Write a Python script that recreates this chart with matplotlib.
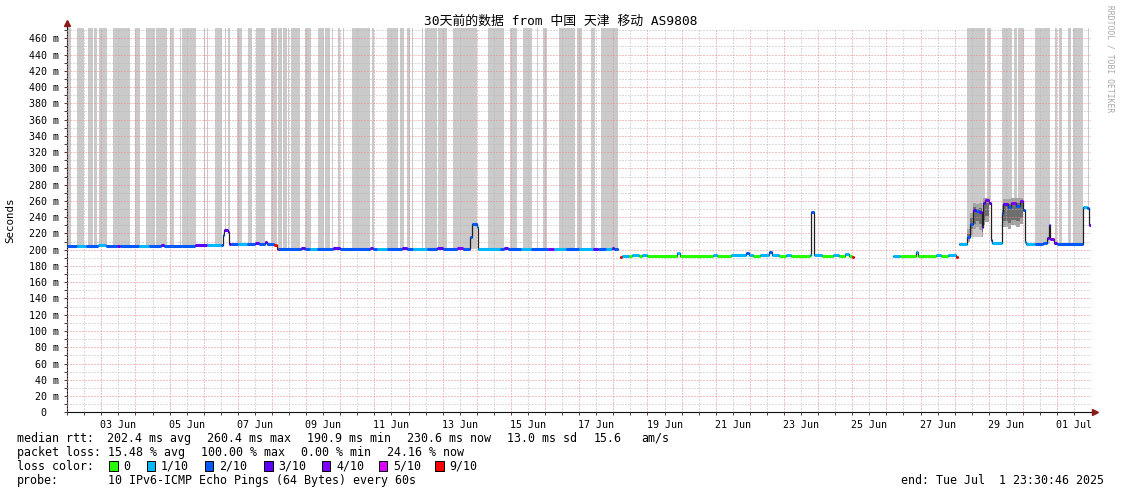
import numpy as np
import matplotlib
matplotlib.use("Agg")
import matplotlib.pyplot as plt
from matplotlib.patches import Rectangle

nan = np.nan

# time axis in "June day" units: 1.0 = 01 Jun 00:00, 31.0 = 01 Jul 00:00
t_start, t_end = 1.98, 31.98  # 30 days ending Tue Jul 1 23:30:46 2025

title = "30天前的数据 from 中国 天津 移动 AS9808"

# median rtt (ms) as a step series: value holds until next time, loss in tenths
med_t = [1.98, 2.30, 2.55, 2.90, 3.15, 3.45, 3.55, 4.10, 4.40, 4.75, 4.85, 5.35,
         5.74, 6.10, 6.52, 6.56, 6.60, 6.70, 6.74, 6.80, 7.00, 7.27, 7.50, 7.62,
         7.80, 7.86, 8.07, 8.14, 8.18,
         8.85, 8.97, 9.11, 9.32, 9.80, 10.00, 10.87, 10.96, 11.08, 11.37, 11.80,
         11.95, 12.13, 12.54, 12.83, 13.00, 13.42, 13.60, 13.80, 13.87, 14.00,
         14.05, 14.68, 14.80, 14.90, 15.30, 15.60, 16.10, 16.25, 16.60, 17.00,
         17.40, 17.55, 17.80, 17.95, 18.03, 18.13,
         18.20, 18.25, 18.45, 18.55, 18.75, 18.85, 19.00, 19.88, 19.95, 20.93,
         21.05, 21.45, 21.90, 21.98, 22.10, 22.30, 22.55, 22.65, 22.85, 23.05,
         23.20, 23.75, 23.80, 23.88, 24.10, 24.45, 24.60, 24.80, 24.90, 24.99,
         25.05,
         26.19, 26.40, 26.86, 26.92, 27.45, 27.60, 27.80, 28.05, 28.11,
         28.14, 28.36, 28.45, 28.54, 28.62, 28.70, 28.79, 28.83, 28.90, 29.00,
         29.06, 29.10, 29.38, 29.42, 29.55, 29.65, 29.80, 29.92, 30.00, 30.06,
         30.10, 30.35, 30.60, 30.70, 30.76, 30.79, 30.90, 30.99, 31.77, 31.88,
         31.94, 31.98]
med_v = [205, 205, 205, 205.5, 205, 205, 205, 205, 205, 206, 205, 205,
         205.5, 206, 206, 218, 224, 222, 207.5, 207.5, 207, 207, 208, 207,
         210, 207, 206, 200.5, 200.5,
         201.5, 200.5, 200.5, 200.5, 201.5, 200.5, 201.5, 200.5, 200.5, 200.5, 201.5,
         200.5, 200.5, 200.5, 202, 200.5, 202, 200.5, 215, 232, 228,
         200.5, 200.5, 202, 200.5, 200.5, 200.5, 201, 200.5, 200.5, 200.5,
         201, 200.5, 200.5, 201.5, 201, nan,
         191.5, 192.5, 192, 193, 192, 193, 192, 196, 192, 193.5,
         192, 193, 196, 193, 192, 193, 197, 193, 192, 193,
         192, 193, 246, 193, 192, 194, 192, 195, 192.5, 191,
         nan,
         192.5, 192, 197, 192, 193, 192, 193, 191.5, nan,
         207.5, 215, 232, 249, 248, 246, 228, 258, 261, 257,
         212, 208.5, 245, 256, 252, 258, 254, 260, 249, 209.5,
         207.5, 207.5, 208, 214, 230, 213, 208, 207.5, 252.5, 251,
         230.5, nan]
med_loss = [2, 1, 2, 1, 2, 3, 2, 1, 2, 3, 2, 2,
            3, 1, 2, 2, 3, 3, 3, 2, 1, 2, 3, 2,
            3, 2, 9, 9, 2,
            3, 2, 1, 2, 3, 2, 4, 2, 1, 2, 3,
            2, 1, 2, 3, 2, 4, 2, 2, 2, 1,
            1, 2, 3, 2, 1, 2, 4, 1, 2, 1,
            3, 2, 1, 3, 2, 0,
            9, 1, 0, 1, 0, 1, 0, 1, 0, 1,
            0, 1, 2, 1, 0, 1, 2, 1, 0, 1,
            0, 1, 2, 1, 0, 1, 0, 1, 0, 9,
            0,
            1, 0, 1, 0, 1, 0, 1, 9, 0,
            1, 2, 2, 3, 2, 3, 4, 3, 4, 3,
            2, 1, 2, 3, 2, 4, 2, 4, 2, 1,
            1, 2, 2, 3, 3, 4, 3, 2, 1, 2,
            3, 0]

# smoke (spread of the pings) where it is wide
smoke_t = [28.36, 28.45, 28.54, 28.62, 28.70, 28.79, 28.83, 28.90, 29.00, 29.06,
           29.38, 29.42, 29.55, 29.65, 29.80, 29.92, 30.00, 30.06]
smoke_lo = [210, 218, 225, 228, 224, 215, 230, 234, 232, nan,
            222, 228, 226, 230, 228, 232, 225, nan]
smoke_hi = [225, 245, 258, 256, 257, 245, 263, 264, 263, nan,
            255, 262, 262, 264, 263, 264, 262, nan]

# intervals with packet loss (grey bars from median to top)
bar_start = [2.02, 2.29, 2.60, 2.80, 2.93, 3.34, 3.99, 4.31, 4.60, 5.01,
             5.31, 5.36, 6.01, 6.09, 6.33, 6.62, 6.72, 6.97, 7.26, 7.30,
             7.53, 7.96, 8.19, 8.33, 8.47, 8.55, 8.97, 9.04, 9.36, 9.55,
             9.77, 9.94, 10.07, 10.35, 10.92, 11.36, 11.75, 11.95, 12.09, 12.39,
             12.48, 12.87, 13.31, 14.34, 14.98, 15.36, 15.76, 15.95, 16.42, 16.93,
             17.35, 17.64, 28.36, 28.84, 28.96, 29.38, 29.74, 29.87, 30.36, 30.94,
             31.07, 31.33, 31.46, 31.92]
bar_end = [2.10, 2.50, 2.77, 2.87, 3.16, 3.84, 4.13, 4.57, 4.92, 5.12,
           5.34, 5.77, 6.04, 6.12, 6.53, 6.65, 6.77, 7.11, 7.28, 7.41,
           7.80, 8.14, 8.29, 8.45, 8.51, 8.82, 9.02, 9.14, 9.53, 9.70,
           9.80, 9.99, 10.10, 10.87, 10.99, 11.70, 11.87, 12.04, 12.14, 12.43,
           12.83, 13.12, 14.00, 14.80, 15.17, 15.61, 15.80, 16.05, 16.88, 17.08,
           17.47, 18.13, 28.83, 28.89, 29.06, 29.69, 29.82, 30.03, 30.80, 31.01,
           31.14, 31.40, 31.75, 31.95]

loss_levels = [0, 1, 2, 3, 4, 5, 9]
loss_colors = ['#26ff00', '#00b8ff', '#0059ff', '#5e00ff', '#7e00ff', '#dd00ff', '#ff0000']

xtick_pos = [3.5, 5.5, 7.5, 9.5, 11.5, 13.5, 15.5, 17.5, 19.5, 21.5, 23.5,
             25.5, 27.5, 29.5, 31.5]
xtick_text = ['03 Jun', '05 Jun', '07 Jun', '09 Jun', '11 Jun', '13 Jun', '15 Jun',
              '17 Jun', '19 Jun', '21 Jun', '23 Jun', '25 Jun', '27 Jun', '29 Jun',
              '01 Jul']

legend_rows = [
    ("median rtt:", ["202.4 ms avg", "260.4 ms max", "190.9 ms min",
                     "230.6 ms now", "13.0 ms sd", "15.6", "am/s"]),
    ("packet loss:", ["15.48 % avg", "100.00 % max", "0.00 % min", "24.16 % now"]),
]
probe_text = "10 IPv6-ICMP Echo Pings (64 Bytes) every 60s"
end_text = "end: Tue Jul  1 23:30:46 2025"

plt.rcParams['font.family'] = ['DejaVu Sans Mono', 'Noto Sans CJK SC']
plt.rcParams['lines.scale_dashes'] = False

W, H = 1121, 494
fig = plt.figure(figsize=(W / 100, H / 100), dpi=100)
ax = fig.add_axes([66.5 / W, 81.7 / H, 1024 / W, 384 / H])
ymax = 472.3
ax.set_xlim(t_start, t_end)
ax.set_ylim(0, ymax)

mt = np.array(med_t)
mv = np.array(med_v, dtype=float)

# grey loss bars
bs = np.array(bar_start)
be = np.array(bar_end)
base = mv[np.searchsorted(mt, bs, side='right') - 1]
ax.bar(bs, ymax - base, width=be - bs, bottom=base, align='edge',
       color='#cacaca', linewidth=0, zorder=1)

# smoke
st = np.array(smoke_t)
slo = np.array(smoke_lo, dtype=float)
shi = np.array(smoke_hi, dtype=float)
ax.fill_between(st, slo, shi, step='post', color='#a4a4a4', lw=0, zorder=2)
ax.fill_between(st, slo + 7, shi - 6, step='post', color='#6e6e6e', lw=0, zorder=2)

# median line: dark base line plus loss-coloured segments
ax.step(mt, mv, where='post', color='#202020', lw=0.9, zorder=3)
cmap = dict(zip(loss_levels, loss_colors))
for i in range(len(mt) - 1):
    if np.isnan(mv[i]):
        continue
    ax.hlines(mv[i], mt[i], mt[i + 1], color=cmap[med_loss[i]], lw=2.2, zorder=4)

# grid and ticks
ax.set_xticks(np.arange(2, 32))
ax.set_xticklabels([])
ax.set_xticks(np.arange(2.5, 32, 1), minor=True)
minor_labels = [''] * len(np.arange(2.5, 32, 1))
for p, s in zip(xtick_pos, xtick_text):
    minor_labels[int(p - 2.5)] = s
ax.set_xticklabels(minor_labels, minor=True)

ax.set_yticks(np.arange(0, 461, 20))
ax.set_yticklabels([f"{v} m" if v else "0  " for v in range(0, 461, 20)])
ax.set_yticks(np.arange(10, 471, 20), minor=True)

dot = (0, (0.72, 1.44))
ax.grid(which='major', color='#e88888', linestyle=dot, linewidth=0.72)
ax.grid(which='minor', color='#b8b8b8', linestyle=dot, linewidth=0.72)
ax.set_axisbelow(False)

ax.tick_params(which='both', direction='out', length=2.2, width=0.7,
               color='#404040', labelsize=7.2)
ax.tick_params(axis='y', pad=2.9)
ax.tick_params(axis='x', pad=0.6)

for s in ['top', 'right']:
    ax.spines[s].set_visible(False)
for s in ['left', 'bottom']:
    ax.spines[s].set_color('#101010')
    ax.spines[s].set_linewidth(0.8)

# axis arrows
ax.plot([0, 0], [1, 1 + 5 / 384], transform=ax.transAxes, color='#101010',
        lw=0.8, clip_on=False, zorder=5)
ax.plot([0], [1 + 5 / 384], marker='^', ms=4.5, color='#8b1a1a',
        transform=ax.transAxes, clip_on=False, zorder=5)
ax.plot([1, 1 + 4 / 1024], [0, 0], transform=ax.transAxes, color='#101010',
        lw=0.8, clip_on=False, zorder=5)
ax.plot([1 + 4 / 1024], [0], marker='>', ms=4.5, color='#8b1a1a',
        transform=ax.transAxes, clip_on=False, zorder=5)

# texts around the graph
fig.text(0.5, 1 - 21 / H, title, ha='center', va='center', fontsize=9.3)
fig.text(10 / W, 1 - 220 / H, "Seconds", rotation=90, ha='center', va='center',
         fontsize=7.8)
fig.text(1110 / W, 1 - 5 / H, "RRDTOOL / TOBI OETIKER", rotation=-90,
         ha='center', va='top', fontsize=5.8, color='#a8a8a8')

lfs = 8.4
row_y = [438, 452, 466, 480]
col_x = [[107.3, 207.3, 307.3, 407.3, 507.3, 593.3, 641.3],
         [107.9, 200.9, 300.9, 386.9]]
for (head, items), y, xs in zip(legend_rows, row_y, col_x):
    fig.text(16.6 / W, 1 - y / H, head, ha='left', va='center', fontsize=lfs)
    for x, s in zip(xs, items):
        fig.text(x / W, 1 - y / H, s, ha='left', va='center', fontsize=lfs)

y = row_y[2]
fig.text(16.6 / W, 1 - y / H, "loss color:", ha='left', va='center', fontsize=lfs)
box_x = [109, 146.5, 204.5, 264, 321.5, 378.5, 435]
for bx, lvl, c in zip(box_x, loss_levels, loss_colors):
    fig.patches.append(Rectangle((bx / W, 1 - (y + 5) / H), 8.5 / W, 10 / H,
                                 transform=fig.transFigure, facecolor=c,
                                 edgecolor='black', lw=0.7))
    fig.text((bx + 14.5) / W, 1 - y / H, "0" if lvl == 0 else f"{lvl}/10",
             ha='left', va='center', fontsize=lfs)

y = row_y[3]
fig.text(16.6 / W, 1 - y / H, "probe:", ha='left', va='center', fontsize=lfs)
fig.text(107.9 / W, 1 - y / H, probe_text, ha='left', va='center', fontsize=lfs)
fig.text(1104 / W, 1 - y / H, end_text, ha='right', va='center', fontsize=lfs)

fig.savefig("out.png", dpi=100, facecolor='white')
